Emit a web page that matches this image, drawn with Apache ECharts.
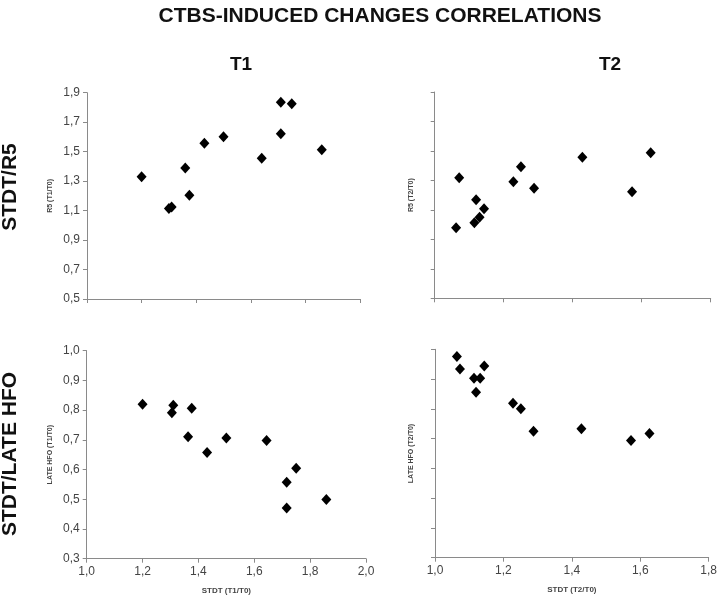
<!DOCTYPE html>
<html>
<head>
<meta charset="utf-8">
<script src="https://cdn.jsdelivr.net/npm/echarts@6/dist/echarts.min.js"></script>
<style>html,body{margin:0;padding:0;background:#fff}#c{width:720px;height:596px}</style>
</head>
<body>
<div id="c"></div>
<script>
// T1 panel data
const stdtT1 = [1.20, 1.30, 1.31, 1.36, 1.375, 1.43, 1.50, 1.64, 1.71, 1.75, 1.71, 1.86];
const r5T1 = [1.33, 1.115, 1.124, 1.389, 1.204, 1.557, 1.601, 1.455, 1.835, 1.825, 1.622, 1.513];
const stdtT1b = [1.20, 1.31, 1.305, 1.376, 1.363, 1.431, 1.50, 1.644, 1.75, 1.716, 1.716, 1.858];
const hfoT1 = [0.820, 0.816, 0.791, 0.806, 0.710, 0.657, 0.706, 0.698, 0.604, 0.557, 0.471, 0.499];
// T2 panel data
const stdtT2 = [1.062, 1.071, 1.115, 1.120, 1.130, 1.143, 1.228, 1.250, 1.288, 1.428, 1.572, 1.626];
const r5T2 = [0.979, 1.318, 1.013, 1.169, 1.050, 1.108, 1.291, 1.393, 1.246, 1.457, 1.223, 1.488];
const stdtT2b = [1.064, 1.073, 1.114, 1.132, 1.144, 1.120, 1.228, 1.251, 1.288, 1.428, 1.573, 1.627];
const hfoT2 = [0.976, 0.934, 0.903, 0.903, 0.944, 0.856, 0.819, 0.800, 0.725, 0.733, 0.694, 0.717];

const mainTitle = 'CTBS-INDUCED CHANGES CORRELATIONS';
const colTitles = ['T1', 'T2'];
const rowTitles = ['STDT/R5', 'STDT/LATE HFO'];
const yNames = ['R5 (T1/T0)', 'R5 (T2/T0)', 'LATE HFO (T1/T0)', 'LATE HFO (T2/T0)'];
const xNames = ['STDT (T1/T0)', 'STDT (T2/T0)'];

const font = 'Liberation Sans, Arial, sans-serif';
const axisCol = '#8a8a8a';
const fmt = v => v.toFixed(1).replace('.', ',');
const zip = (a, b) => a.map((v, i) => [v, b[i]]);

function xAx(idx, min, max, showLabels, name) {
  return {
    gridIndex: idx, type: 'value', min: min, max: max, interval: 0.2,
    splitLine: { show: false },
    axisLine: { onZero: false, lineStyle: { color: axisCol, width: 1 } },
    axisTick: { show: true, inside: false, length: 4, lineStyle: { color: axisCol } },
    axisLabel: { show: showLabels, formatter: fmt, color: '#444', fontSize: 12, fontFamily: font, margin: 7 },
    name: name || '', nameLocation: 'middle', nameGap: 28,
    nameTextStyle: { fontSize: 8, fontWeight: 'bold', color: '#444', fontFamily: font }
  };
}
function yAx(idx, min, max, interval, showLabels, name, gap) {
  return {
    gridIndex: idx, type: 'value', min: min, max: max, interval: interval,
    splitLine: { show: false },
    axisLine: { show: true, onZero: false, lineStyle: { color: axisCol, width: 1 } },
    axisTick: { show: true, inside: false, length: 4, lineStyle: { color: axisCol } },
    axisLabel: { show: showLabels, formatter: fmt, color: '#444', fontSize: 12, fontFamily: font, margin: 7 },
    name: name, nameLocation: 'middle', nameGap: gap, nameRotate: 90,
    nameTextStyle: { fontSize: 7, fontWeight: 'bold', color: '#444', fontFamily: font }
  };
}
function sc(idx, data) {
  return {
    type: 'scatter', xAxisIndex: idx, yAxisIndex: idx, data: data,
    symbol: 'diamond', symbolSize: [10, 11],
    itemStyle: { color: '#000', opacity: 1 }, silent: true
  };
}

const chart = echarts.init(document.getElementById('c'), null, { renderer: 'canvas' });
chart.setOption({
  animation: false,
  backgroundColor: '#fff',
  title: [
    { text: mainTitle, left: 375, top: 1, textAlign: 'center', textStyle: { fontSize: 21, fontWeight: 'bold', color: '#111', fontFamily: font } },
    { text: colTitles[0], left: 236, top: 50, textAlign: 'center', textStyle: { fontSize: 19, fontWeight: 'bold', color: '#111', fontFamily: font } },
    { text: colTitles[1], left: 605, top: 50, textAlign: 'center', textStyle: { fontSize: 19, fontWeight: 'bold', color: '#111', fontFamily: font } }
  ],
  graphic: [
    { type: 'text', x: 10, y: 187, rotation: Math.PI / 2, style: { text: rowTitles[0], fontSize: 21, fontWeight: 'bold', fill: '#111', fontFamily: font, textAlign: 'center', textVerticalAlign: 'middle' } },
    { type: 'text', x: 10, y: 454, rotation: Math.PI / 2, style: { text: rowTitles[1], fontSize: 21, fontWeight: 'bold', fill: '#111', fontFamily: font, textAlign: 'center', textVerticalAlign: 'middle' } }
  ],
  grid: [
    { left: 87, top: 92.7, width: 273, height: 206.3 },
    { left: 434.7, top: 92, width: 276, height: 206.3 },
    { left: 86.7, top: 350.7, width: 279.3, height: 208 },
    { left: 435, top: 349.3, width: 275.3, height: 208.4 }
  ],
  xAxis: [
    xAx(0, 1.0, 2.0, false),
    xAx(1, 1.0, 1.8, false),
    xAx(2, 1.0, 2.0, true, xNames[0]),
    xAx(3, 1.0, 1.8, true, xNames[1])
  ],
  yAxis: [
    yAx(0, 0.5, 1.9, 0.2, true, yNames[0], 33),
    yAx(1, 0.5, 1.9, 0.2, false, yNames[1], 20),
    yAx(2, 0.3, 1.0, 0.1, true, yNames[2], 33),
    yAx(3, 0.3, 1.0, 0.1, false, yNames[3], 20)
  ],
  series: [
    sc(0, zip(stdtT1, r5T1)),
    sc(1, zip(stdtT2, r5T2)),
    sc(2, zip(stdtT1b, hfoT1)),
    sc(3, zip(stdtT2b, hfoT2))
  ]
});
</script>
</body>
</html>
